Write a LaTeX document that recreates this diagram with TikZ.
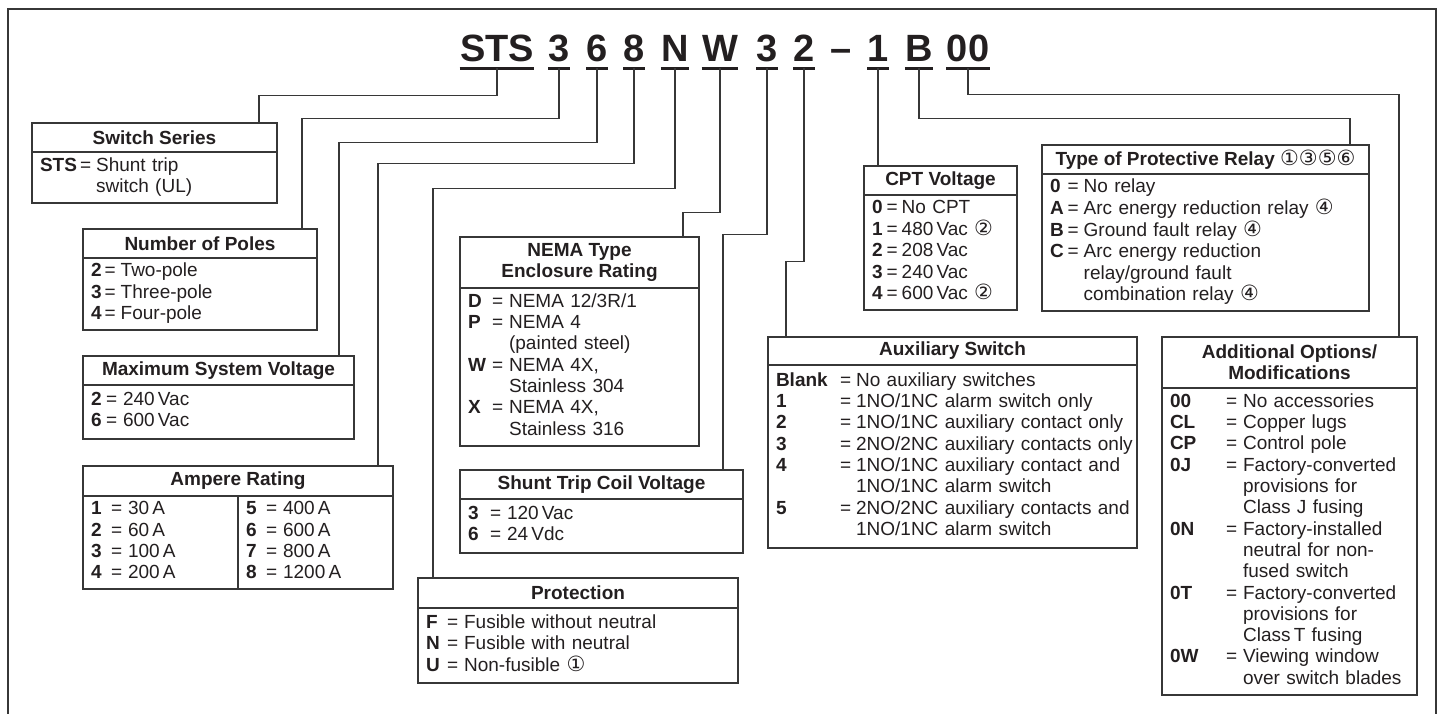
\documentclass[tikz,border=0pt]{standalone}
\usepackage{fontspec}
\setmainfont{Liberation Sans}
\newfontfamily\circfont{DejaVu Sans}
\usepackage{array}
\usepackage{xcolor}
\usetikzlibrary{positioning, calc}
\definecolor{ink}{RGB}{35,31,32}
\definecolor{rulegray}{RGB}{55,55,55}

\newcommand{\boxsize}{\fontsize{9.5}{10.65}\selectfont}
\newcommand{\codefont}{\fontsize{19}{22}\selectfont\bfseries}
\newcommand{\circnum}[1]{{\circfont\mdseries\fontsize{10.5}{10}\selectfont #1}}
\newcommand{\ent}[2]{#1 & = & #2\\}
\newcommand{\cont}[1]{& & #1\\}
\newcommand{\codelist}[3]{\begin{tabular}{@{}>{\bfseries}p{#1}@{}l@{\hspace{#2}}l@{}}#3\end{tabular}}

\tikzset{
  codechar/.style={font=\codefont, text=ink, inner xsep=0pt, inner ysep=3.5pt,
    text depth=0pt, anchor=base},
  uline/.style={draw=ink, line width=1.5pt},
  wire/.style={draw=rulegray, line width=0.6pt},
  boxhead/.style={draw=rulegray, line width=0.7pt, text=ink, outer sep=0pt,
    inner sep=0pt, anchor=north west, align=center, font=\boxsize\bfseries},
  boxbody/.style={draw=rulegray, line width=0.7pt, text=ink, outer sep=0pt,
    inner xsep=4pt, inner ysep=0pt, anchor=north west, align=left, font=\boxsize}
}

\begin{document}
\begin{tikzpicture}[x=0.5pt, y=-0.5pt]
  \useasboundingbox (0,0) rectangle (1441,713);
  \draw[rulegray, line width=0.75pt] (8,9) rectangle (1436,760);

  % catalog number
  \foreach \px/\txt/\nm in {497/STS/cSTS, 559/3/cPol, 597/6/cVolt, 634/8/cAmp,
      675/N/cProt, 720/W/cNema, 767/3/cCoil, 804/2/cAux, 878/1/cCpt,
      919/B/cRelay, 968/00/cOpt} {
    \node[codechar] (\nm) at (\px,61) {\txt};
    \draw[uline] (\nm.south west) -- (\nm.south east);
  }
  \node[codechar] (cDash) at (841.5,61) {--};

  % left column
  \node[boxhead, minimum width=122.5pt, minimum height=14.5pt] (ss) at (32,123)
    {Switch Series};
  \node[boxbody, text width=114.5pt, minimum height=25.5pt, below=0pt of ss] (ssBody)
    {\codelist{20pt}{2.5pt}{\ent{STS}{Shunt trip}\cont{switch (UL)}}};

  \node[boxhead, minimum width=117pt, minimum height=14.5pt] (np) at (83,229)
    {Number of Poles};
  \node[boxbody, text width=109pt, minimum height=36pt, below=0pt of np] (npBody)
    {\codelist{6.8pt}{2.5pt}{\ent{2}{Two-pole}\ent{3}{Three-pole}\ent{4}{Four-pole}}};

  \node[boxhead, minimum width=135.5pt, minimum height=14.5pt] (msv) at (83,356)
    {Maximum System Voltage};
  \node[boxbody, text width=127.5pt, minimum height=27pt, below=0pt of msv] (msvBody)
    {\codelist{7.5pt}{3pt}{\ent{2}{240\,Vac}\ent{6}{600\,Vac}}};

  \node[boxhead, minimum width=155pt, minimum height=15pt] (amp) at (83,466)
    {Ampere Rating};
  \node[boxbody, text width=69.5pt, minimum height=46.5pt,
        below right=0pt and 0pt of amp.south west] (ampLeft)
    {\codelist{10pt}{3pt}{\ent{1}{30\,A}\ent{2}{60\,A}\ent{3}{100\,A}\ent{4}{200\,A}}};
  \node[boxbody, text width=69.5pt, minimum height=46.5pt, right=0pt of ampLeft] (ampRight)
    {\codelist{10pt}{3pt}{\ent{5}{400\,A}\ent{6}{600\,A}\ent{7}{800\,A}\ent{8}{1200\,A}}};

  % middle column
  \node[boxhead, minimum width=160pt, minimum height=15pt] (prot) at (418,578)
    {Protection};
  \node[boxbody, text width=152pt, minimum height=37.5pt, below=0pt of prot] (protBody)
    {\codelist{10.5pt}{3pt}{\ent{F}{Fusible without neutral}\ent{N}{Fusible with neutral}%
      \ent{U}{Non-fusible \circnum{①}}}};

  \node[boxhead, minimum width=119.5pt, minimum height=25.5pt] (nema) at (460,237)
    {NEMA Type\\Enclosure Rating};
  \node[boxbody, text width=111.5pt, minimum height=79pt, below=0pt of nema] (nemaBody)
    {\codelist{12pt}{3pt}{\ent{D}{NEMA 12/3R/1}\ent{P}{NEMA 4}\cont{(painted steel)}%
      \ent{W}{NEMA 4X,}\cont{Stainless 304}\ent{X}{NEMA 4X,}\cont{Stainless 316}}};

  \node[boxhead, minimum width=141.5pt, minimum height=14.5pt] (stcv) at (460,470)
    {Shunt Trip Coil Voltage};
  \node[boxbody, text width=133.5pt, minimum height=27pt, below=0pt of stcv] (stcvBody)
    {\codelist{11pt}{3pt}{\ent{3}{120\,Vac}\ent{6}{24\,Vdc}}};

  \node[boxhead, minimum width=76.5pt, minimum height=14.5pt] (cpt) at (864,166)
    {CPT Voltage};
  \node[boxbody, text width=68.5pt, minimum height=57.5pt, below=0pt of cpt] (cptBody)
    {\codelist{7.3pt}{2pt}{\ent{0}{No CPT}\ent{1}{480\,Vac \circnum{②}}\ent{2}{208\,Vac}%
      \ent{3}{240\,Vac}\ent{4}{600\,Vac \circnum{②}}}};

  \node[boxhead, minimum width=184.5pt, minimum height=14pt] (aux) at (768,337)
    {Auxiliary Switch};
  \node[boxbody, text width=176.5pt, minimum height=91.5pt, below=0pt of aux] (auxBody)
    {\codelist{32pt}{2.5pt}{\ent{Blank}{No auxiliary switches}%
      \ent{1}{1NO/1NC alarm switch only}\ent{2}{1NO/1NC auxiliary contact only}%
      \ent{3}{2NO/2NC auxiliary contacts only}\ent{4}{1NO/1NC auxiliary contact and}%
      \cont{1NO/1NC alarm switch}\ent{5}{2NO/2NC auxiliary contacts and}%
      \cont{1NO/1NC alarm switch}}};

  % right column
  \node[boxhead, minimum width=163.5pt, minimum height=14.5pt] (relay) at (1042,145)
    {Type of Protective Relay \circnum{①③⑤⑥}};
  \node[boxbody, text width=155.5pt, minimum height=68.5pt, below=0pt of relay] (relayBody)
    {\codelist{8.8pt}{2.5pt}{\ent{0}{No relay}\ent{A}{Arc energy reduction relay \circnum{④}}%
      \ent{B}{Ground fault relay \circnum{④}}\ent{C}{Arc energy reduction}%
      \cont{relay/ground fault}\cont{combination relay \circnum{④}}}};

  \node[boxhead, minimum width=127.5pt, minimum height=25.5pt] (opt) at (1162,337)
    {Additional Options/\\Modifications};
  \node[boxbody, text width=119.5pt, minimum height=153.5pt, below=0pt of opt] (optBody)
    {\codelist{28pt}{3pt}{\ent{00}{No accessories}\ent{CL}{Copper lugs}\ent{CP}{Control pole}%
      \ent{0J}{Factory-converted}\cont{provisions for}\cont{Class J fusing}%
      \ent{0N}{Factory-installed}\cont{neutral for non-}\cont{fused switch}%
      \ent{0T}{Factory-converted}\cont{provisions for}\cont{Class\,T fusing}%
      \ent{0W}{Viewing window}\cont{over switch blades}}};

  % leaders
  \draw[wire] (cSTS.south) -- ++(0,27) -| ($(ss.north east)+(-18,0)$);
  \draw[wire] (cPol.south) -- ++(0,50) -| ($(np.north east)+(-15,0)$);
  \draw[wire] (cVolt.south) -- ++(0,74) -| ($(msv.north east)+(-15,0)$);
  \draw[wire] (cAmp.south) -- ++(0,95) -| ($(amp.north east)+(-15,0)$);
  \draw[wire] (cProt.south) -- ++(0,120) -| ($(prot.north west)+(15,0)$);
  \draw[wire] (cNema.south) -- ++(0,144) -| ($(nema.north east)+(-16,0)$);
  \draw[wire] (cCoil.south) -- ++(0,166) -| ($(stcv.north east)+(-20,0)$);
  \draw[wire] (cAux.south) -- ++(0,193) -| ($(aux.north west)+(18,0)$);
  \draw[wire] (cCpt.south) -- (cCpt.south |- cpt.north);
  \draw[wire] (cRelay.south) -- ++(0,50) -| ($(relay.north east)+(-19,0)$);
  \draw[wire] (cOpt.south) -- ++(0,26) -| ($(opt.north east)+(-18,0)$);
\end{tikzpicture}
\end{document}
